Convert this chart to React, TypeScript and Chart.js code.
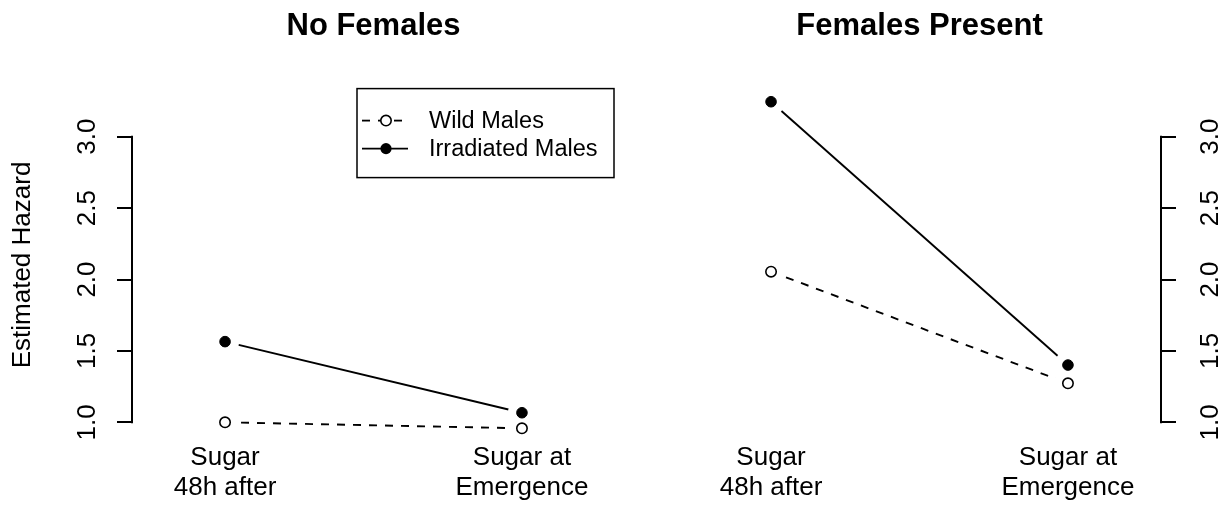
import React, { useEffect, useRef } from 'react';
import { Chart, registerables } from 'chart.js';

Chart.register(...registerables);

// ---------------- data ----------------
const xPositions = [1, 2];
const xTickLabels = [
  ['Sugar', '48h after'],
  ['Sugar at', 'Emergence'],
];
const panelTitles = ['No Females', 'Females Present'];
const seriesNames = ['Wild Males', 'Irradiated Males'];
const noFemalesWild = [1.0, 0.958];
const noFemalesIrradiated = [1.565, 1.067];
const femalesPresentWild = [2.055, 1.273];
const femalesPresentIrradiated = [3.245, 1.401];
const yTickValues = [1.0, 1.5, 2.0, 2.5, 3.0];
const yAxisTitle = 'Estimated Hazard';

const FONT = '"Liberation Sans", Arial, Helvetica, sans-serif';
const BASE = 26;

const pts = (vals: number[]) => vals.map((v, i) => ({ x: xPositions[i], y: v }));

const axisLinePlugin = {
  id: 'rAxisLine',
  afterDraw(chart: any) {
    const ys = chart.scales.y;
    const ctx = chart.ctx;
    const x = ys.position === 'left' ? ys.right - 1 : ys.left + 1;
    ctx.save();
    ctx.strokeStyle = '#000';
    ctx.lineWidth = 2;
    ctx.beginPath();
    ctx.moveTo(x, ys.getPixelForValue(yTickValues[0]) + 1);
    ctx.lineTo(x, ys.getPixelForValue(yTickValues[yTickValues.length - 1]) - 1);
    ctx.stroke();
    ctx.restore();
  },
};

const legendPlugin = {
  id: 'rLegend',
  afterDraw(chart: any) {
    const ctx = chart.ctx;
    const area = chart.chartArea;
    const w = 257;
    const h = 89;
    const left = area.right - w;
    const top = area.top;
    ctx.save();
    ctx.strokeStyle = '#000';
    ctx.lineWidth = 1.5;
    ctx.strokeRect(left, top, w, h);
    const rows = [top + 32, top + 60];
    // Wild males symbol
    ctx.lineWidth = 1.8;
    ctx.setLineDash([8, 8]);
    ctx.beginPath();
    ctx.moveTo(left + 5, rows[0]);
    ctx.lineTo(left + 51, rows[0]);
    ctx.stroke();
    ctx.setLineDash([]);
    ctx.beginPath();
    ctx.arc(left + 29, rows[0], 5.2, 0, Math.PI * 2);
    ctx.fillStyle = '#fff';
    ctx.fill();
    ctx.lineWidth = 1.6;
    ctx.stroke();
    // Irradiated symbol
    ctx.lineWidth = 1.8;
    ctx.beginPath();
    ctx.moveTo(left + 5, rows[1]);
    ctx.lineTo(left + 51, rows[1]);
    ctx.stroke();
    ctx.beginPath();
    ctx.arc(left + 29, rows[1], 5.6, 0, Math.PI * 2);
    ctx.fillStyle = '#000';
    ctx.fill();
    // text
    ctx.fillStyle = '#000';
    ctx.font = `23.5px ${FONT}`;
    ctx.textBaseline = 'middle';
    ctx.textAlign = 'left';
    ctx.fillText(seriesNames[0], left + 72, rows[0] + 1);
    ctx.fillText(seriesNames[1], left + 72, rows[1] + 1);
    ctx.restore();
  },
};

function makeConfig(
  title: string,
  wild: number[],
  irr: number[],
  side: 'left' | 'right',
  withLegend: boolean
): any {
  return {
    type: 'scatter',
    data: {
      datasets: [
        {
          label: seriesNames[0],
          data: pts(wild),
          showLine: false,
          pointRadius: 5.2,
          pointBorderWidth: 1.6,
          pointBackgroundColor: '#fff',
          pointBorderColor: '#000',
          order: 0,
        },
        {
          label: seriesNames[1],
          data: pts(irr),
          showLine: false,
          pointRadius: 5.3,
          pointBorderWidth: 1,
          pointBackgroundColor: '#000',
          pointBorderColor: '#000',
          order: 0,
        },
        {
          label: 'gap',
          data: [...pts(wild), ...pts(irr)],
          showLine: false,
          pointRadius: 14,
          pointBorderWidth: 0,
          pointBackgroundColor: '#fff',
          pointBorderColor: '#fff',
          order: 1,
        },
        {
          label: seriesNames[0] + ' line',
          data: pts(wild),
          showLine: true,
          borderColor: '#000',
          borderWidth: 1.9,
          borderDash: [8, 8],
          pointRadius: 0,
          order: 2,
        },
        {
          label: seriesNames[1] + ' line',
          data: pts(irr),
          showLine: true,
          borderColor: '#000',
          borderWidth: 1.9,
          pointRadius: 0,
          order: 2,
        },
      ],
    },
    options: {
      responsive: false,
      animation: false,
      events: [],
      layout: {
        autoPadding: false,
        padding: side === 'left' ? { left: 0, right: 1, top: 0, bottom: 0 } : { left: 64, right: 0, top: 0, bottom: 0 },
      },
      plugins: {
        legend: { display: false },
        tooltip: { enabled: false },
        title: {
          display: true,
          text: title,
          fullSize: false,
          color: '#000',
          font: { family: FONT, size: 31, weight: 'bold' },
          padding: { top: 7.5, bottom: 43.9 },
        },
      },
      scales: {
        x: {
          type: 'linear',
          min: 0.69,
          max: 2.31,
          afterBuildTicks: (s: any) => {
            s.ticks = xPositions.map((v) => ({ value: v }));
          },
          afterFit: (s: any) => {
            s.height = 69.7;
          },
          ticks: {
            callback: (_v: any, i: number) => xTickLabels[i],
            color: '#000',
            font: { family: FONT, size: BASE, lineHeight: 1.15 },
            padding: 1.7,
            autoSkip: false,
            maxRotation: 0,
            minRotation: 0,
          },
          grid: { display: false, drawTicks: false, tickLength: 0 },
          border: { display: false },
        },
        y: {
          type: 'linear',
          position: side,
          min: 0.867,
          max: 3.337,
          afterBuildTicks: (s: any) => {
            s.ticks = yTickValues.map((v) => ({ value: v }));
          },
          afterFit: (s: any) => {
            s.width = side === 'left' ? 133 : 71;
          },
          ticks: {
            callback: (v: any) => Number(v).toFixed(1),
            color: '#000',
            font: { family: FONT, size: BASE },
            padding: side === 'left' ? 10.9 : 16.9,
            minRotation: 90,
            maxRotation: 90,
            crossAlign: 'center',
            autoSkip: false,
          },
          grid: {
            display: true,
            drawOnChartArea: false,
            drawTicks: true,
            tickLength: 16,
            color: '#000',
            lineWidth: 2,
          },
          border: { display: false },
          title:
            side === 'left'
              ? {
                  display: true,
                  text: yAxisTitle,
                  color: '#000',
                  font: { family: FONT, size: BASE },
                  padding: { top: 7.1, bottom: 0 },
                }
              : { display: false },
        },
      },
    },
    plugins: withLegend ? [axisLinePlugin, legendPlugin] : [axisLinePlugin],
  };
}

export default function App() {
  const leftRef = useRef<HTMLCanvasElement>(null);
  const rightRef = useRef<HTMLCanvasElement>(null);

  useEffect(() => {
    const c1 = new Chart(
      leftRef.current as HTMLCanvasElement,
      makeConfig(panelTitles[0], noFemalesWild, noFemalesIrradiated, 'left', true)
    );
    const c2 = new Chart(
      rightRef.current as HTMLCanvasElement,
      makeConfig(panelTitles[1], femalesPresentWild, femalesPresentIrradiated, 'right', false)
    );
    return () => {
      c1.destroy();
      c2.destroy();
    };
  }, []);

  return (
    <div
      style={{
        position: 'absolute',
        left: 0,
        top: 0,
        width: 1231,
        height: 511,
        background: '#fff',
      }}
    >
      <canvas
        ref={leftRef}
        width={615}
        height={511}
        style={{ position: 'absolute', left: 0, top: 0, width: 615, height: 511 }}
      />
      <canvas
        ref={rightRef}
        width={616}
        height={511}
        style={{ position: 'absolute', left: 615, top: 0, width: 616, height: 511 }}
      />
    </div>
  );
}
